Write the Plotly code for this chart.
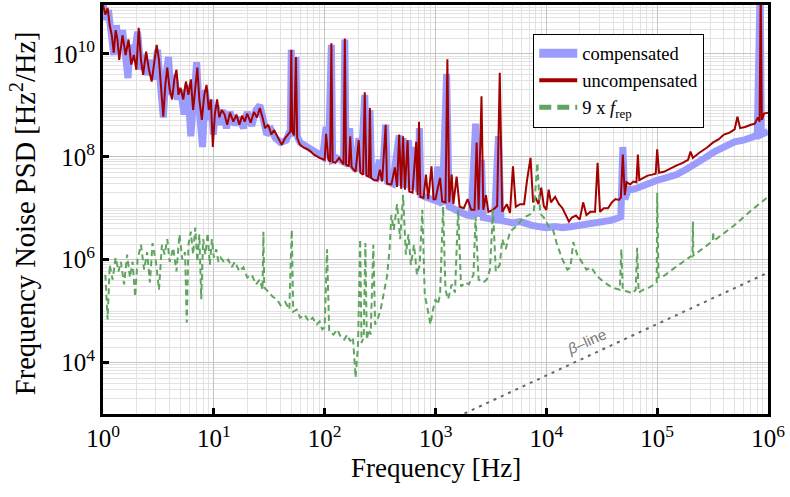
import plotly.graph_objects as go

# ---------------- data ----------------
unc_freq = [1.0, 1.05, 1.1, 1.15, 1.2, 1.25, 1.3, 1.35, 1.4, 1.45, 1.5, 1.6, 1.7, 1.8, 1.9, 2.0, 2.1, 2.2, 2.3, 2.45,
            2.6, 2.75, 2.9, 3.05, 3.2, 3.4, 3.5, 3.65, 3.8, 4.0, 4.2, 4.4, 4.6, 4.8, 5.0, 5.3, 5.6, 5.9, 6.2, 6.5,
            6.8, 7.1, 7.4, 7.8, 8.2, 8.6, 9.0, 9.4, 9.8, 10.2, 10.7, 11.2, 11.8, 12.5, 13.2, 14, 15, 16, 17, 18,
            19, 20, 21.5, 23, 24.5, 26, 27.5, 29, 31, 33, 35, 38, 41, 44, 47, 49, 50, 51, 53, 55,
            56.5, 60, 65, 70, 75, 80, 90, 100, 103, 108, 112, 115, 118, 125, 135, 148, 152, 156, 165, 170,
            175, 190, 203, 210, 222, 230, 238, 250, 256, 262, 280, 300, 315, 330, 355, 365, 400, 430, 450, 470,
            490, 510, 530, 560, 580, 620, 670, 690, 710, 730, 780, 820, 860, 920, 960, 1000, 1050, 1100, 1150, 1230,
            1280, 1330, 1400, 1450, 1550, 1650, 1800, 1950, 2100, 2250, 2350, 2450, 2600, 2700, 2850, 3000, 3300, 3600, 3800, 4000,
            4400, 4700, 5000, 5300, 5800, 6300, 6700, 7200, 7600, 8000, 8500, 9000, 9500, 10000, 10500, 11000, 12000, 13000, 14000, 15000,
            16000, 17000, 18500, 20000, 21500, 23000, 25000, 27500, 29000, 30500, 33000, 36000, 39000, 42000, 45000, 47000, 49000, 51000, 53000, 57000,
            61000, 65000, 67000, 69000, 75000, 82000, 90000, 97000, 100000, 104000, 115000, 130000, 150000, 170000, 190000, 200000, 210000, 240000, 280000, 320000,
            360000, 400000, 450000, 500000, 530000, 560000, 620000, 700000, 760000, 810000, 840000, 860000, 880000, 920000, 1000000]
unc_psd = [8.9e10, 5.8e10, 7.8e10, 3.6e10, 2.3e10, 1.05e10, 2.9e10, 1.9e10, 7.6e9, 1.5e10, 2.3e10, 9.5e9, 1.9e10, 6.2e9, 9.5e9, 4.9e9, 3.2e10, 7.6e9, 3.9e9, 1.1e10,
           4.9e9, 2.9e9, 6.2e9, 1.5e10, 7.6e9, 1.6e9, 6.0e8, 2.5e9, 5.4e9, 2.0e9, 1.3e9, 3.2e9, 4.9e9, 1.6e9, 2.2e9, 1.3e9, 2.9e9, 1.6e9, 3.2e9, 8.1e8,
           2.0e9, 5.4e9, 1.3e9, 5.2e8, 1.6e9, 2.5e9, 8.1e8, 1.3e9, 1.55e8, 6.6e8, 1.3e9, 5.8e8, 8.1e8, 6.6e8, 4.2e8, 7.2e8, 4.8e8, 6.6e8, 4.2e8, 6.3e8,
           4.8e8, 6.9e8, 4.6e8, 7.4e8, 5.8e8, 8.9e8, 5.8e8, 3.6e8, 4.2e8, 2.7e8, 3.3e8, 2.3e8, 1.7e8, 2.3e8, 2.7e8, 3.1e8, 1.2e10, 3.1e8, 2.6e8, 8.7e9,
           2.3e8, 1.7e8, 1.5e8, 1.4e8, 1.26e8, 1.1e8, 9.5e7, 8.7e7, 2.8e8, 8.7e7, 8.0e7, 1.6e10, 8.0e7, 7.6e7, 9.5e7, 7.1e7, 2.0e10, 7.1e7, 6.5e7, 2.5e8,
           6.3e7, 5.1e7, 2.1e8, 4.9e7, 4.5e7, 1.8e9, 4.3e7, 4.1e7, 8.9e8, 3.9e7, 3.5e7, 3.5e7, 5.6e7, 3.3e7, 4.2e8, 3.0e7, 2.9e7, 6.2e7, 2.6e7, 2.7e8,
           2.4e7, 2.5e8, 2.3e7, 2.1e8, 2.1e7, 2.0e7, 1.95e8, 1.8e7, 4.8e8, 1.66e7, 1.6e7, 4.5e7, 1.5e7, 6.5e7, 1.5e7, 1.5e7, 2.5e7, 3.9e7, 1.35e7, 1.3e7,
           7.9e9, 1.3e7, 4.5e7, 1.2e7, 4.1e7, 1.07e7, 1.0e7, 1.5e7, 9.3e6, 9.3e6, 1.9e8, 9.3e6, 1.5e9, 9.3e6, 1.8e7, 8.5e6, 9.3e6, 1.1e7, 4.3e9, 8.5e6,
           1.2e7, 8.1e6, 6.5e7, 1.07e7, 1.2e7, 1.2e7, 3.5e7, 9.5e7, 1.3e7, 1.6e7, 1.2e7, 2.5e7, 1.1e7, 9.3e6, 2.3e7, 1.3e7, 1.66e7, 1.2e7, 1.0e7, 7.4e6,
           5.5e6, 6.6e6, 7.2e6, 6.0e6, 1.3e7, 7.4e6, 8.5e6, 8.5e6, 7.6e7, 8.5e6, 1.0e7, 1.0e7, 1.3e7, 1.5e7, 1.45e7, 1.6e7, 1.1e8, 1.8e7, 3.2e7, 2.9e7,
           3.3e7, 3.2e7, 1.1e8, 3.5e7, 3.9e7, 4.3e7, 4.5e7, 4.7e7, 1.4e8, 4.9e7, 5.1e7, 5.9e7, 6.8e7, 7.6e7, 8.7e7, 1.26e8, 9.5e7, 1.2e8, 1.5e8, 1.9e8,
           2.2e8, 2.7e8, 2.95e8, 3.4e8, 6.0e8, 3.6e8, 3.8e8, 4.2e8, 4.4e8, 5.8e8, 4.8e8, 2.0e11, 5.2e8, 6.9e8, 7.2e8]

comp_freq = [1.0, 1.06, 1.12, 1.18, 1.25, 1.32, 1.4, 1.5, 1.6, 1.68, 1.76, 1.9, 2.05, 2.2, 2.35, 2.5, 2.7, 2.9, 3.1, 3.3,
             3.5, 3.7, 3.9, 4.1, 4.4, 4.7, 5.0, 5.4, 5.8, 6.2, 6.6, 7.0, 7.4, 7.9, 8.4, 8.9, 9.4, 9.9, 10.5, 11.2,
             12, 13, 14, 15.5, 17, 18.5, 20, 22, 24, 26, 28, 30, 33, 36, 40, 45, 49, 50, 51, 53,
             55, 56.5, 60, 66, 72, 80, 90, 96, 103, 108, 115, 118, 128, 148, 152, 156, 168, 175, 190, 203,
             212, 230, 240, 256, 265, 290, 312, 330, 355, 370, 410, 470, 490, 510, 540, 570, 600, 660, 700, 715,
             740, 800, 900, 1000, 1050, 1100, 1150, 1260, 1330, 1500, 1700, 1900, 2100, 2300, 2400, 2600, 2700, 3000, 3400, 3700,
             3900, 4400, 5000, 5800, 6500, 7500, 8500, 10000, 12000, 14000, 17000, 20000, 24000, 28000, 33000, 38000, 43000, 47000, 49000, 51000,
             55000, 60000, 67000, 75000, 85000, 100000, 120000, 150000, 180000, 220000, 270000, 330000, 400000, 500000, 600000, 700000, 800000, 850000, 870000, 1000000]
comp_psd = [9.8e10, 4.6e10, 7.1e10, 1.9e10, 9.5e9, 3.6e10, 1.2e10, 2.9e10, 7.6e9, 3.4e9, 1.5e10, 7.6e9, 2.7e10, 4.9e9, 9.5e9, 3.9e9, 7.6e9, 3.2e9, 1.2e10, 2.5e9,
            5.8e8, 3.9e9, 8.7e9, 1.6e9, 3.9e9, 1.3e9, 2.0e9, 6.6e8, 2.5e9, 2.5e8, 1.6e9, 6.9e9, 8.1e8, 1.55e8, 2.0e9, 5.2e8, 1.3e9, 2.7e8, 1.0e9, 4.2e8,
            8.1e8, 3.6e8, 7.4e8, 4.2e8, 5.8e8, 3.6e8, 7.4e8, 4.0e8, 8.1e8, 1.0e9, 5.2e8, 2.7e8, 3.3e8, 2.3e8, 1.9e8, 2.1e8, 3.3e8, 1.2e10, 2.9e8, 2.7e8,
            8.7e9, 2.5e8, 1.9e8, 1.7e8, 1.5e8, 1.26e8, 1.1e8, 1.0e8, 3.8e8, 9.5e7, 1.5e10, 8.7e7, 9.5e7, 8.0e7, 1.9e10, 7.6e7, 3.6e8, 7.1e7, 5.6e7, 2.3e8,
            5.1e7, 1.6e9, 4.5e7, 8.1e8, 4.3e7, 3.9e7, 8.7e7, 3.5e7, 4.2e8, 3.3e7, 3.0e7, 2.6e8, 2.75e7, 2.3e8, 2.5e7, 2.1e8, 2.3e7, 1.55e8, 2.1e7, 3.6e8,
            1.8e7, 1.66e7, 1.5e7, 1.4e7, 6.5e7, 1.3e7, 1.2e7, 4.1e9, 1.07e7, 9.3e6, 8.1e6, 7.4e6, 7.1e6, 4.4e8, 6.8e6, 8.7e7, 6.6e6, 6.3e6, 6.0e6, 2.5e8,
            5.8e6, 5.5e6, 5.2e6, 5.5e6, 5.0e6, 4.6e6, 4.4e6, 4.2e6, 4.4e6, 4.2e6, 4.4e6, 4.6e6, 4.8e6, 5.0e6, 5.5e6, 5.8e6, 6.3e6, 6.8e6, 1.55e8, 1.5e7,
            2.3e7, 2.3e7, 2.5e7, 2.75e7, 3.2e7, 3.5e7, 3.9e7, 4.5e7, 5.6e7, 7.1e7, 9.5e7, 1.26e8, 1.55e8, 1.95e8, 2.1e8, 2.3e8, 2.6e8, 2.0e11, 2.7e8, 3.1e8]

frep_freq = [1.05, 1.1, 1.15, 1.22, 1.3, 1.38, 1.45, 1.55, 1.65, 1.75, 1.85, 1.95, 2.05, 2.2, 2.35, 2.5, 2.65, 2.8, 3.0, 3.2,
             3.4, 3.6, 3.8, 4.0, 4.3, 4.6, 4.9, 5.2, 5.5, 5.7, 5.9, 6.2, 6.5, 6.8, 7.1, 7.4, 7.7, 8.0, 8.4, 8.8,
             9.2, 9.6, 10, 10.5, 11, 11.5, 12.5, 13.5, 14.5, 15.5, 17, 18.5, 20, 22, 24, 26, 27.5, 28, 28.5, 31,
             34, 37, 40, 44, 48, 50.5, 52, 56, 60, 66, 72, 78, 85, 90, 95, 100, 105, 110, 120, 130,
             140, 150, 160, 170, 180, 190, 200, 209, 215, 225, 233, 240, 250, 260, 275, 285, 300, 320, 340, 365,
             385, 400, 420, 450, 480, 510, 540, 570, 600, 640, 680, 720, 760, 800, 850, 900, 950, 1000, 1050, 1100,
             1170, 1230, 1300, 1400, 1500, 1600, 1700, 1850, 2000, 2200, 2300, 2450, 2700, 2900, 3100, 3300, 3500, 3800, 4000, 4300,
             4700, 5200, 5800, 6300, 7000, 7700, 8300, 8800, 9500, 10500, 11500, 12500, 14000, 15500, 16500, 17500, 19000, 21000, 23000, 25500,
             28000, 31000, 34000, 38000, 42000, 46000, 47500, 49000, 54000, 60000, 64000, 66000, 68000, 75000, 85000, 95000, 99000, 100000, 103000, 110000,
             150000, 200000, 208000, 210000, 212000, 300000, 318000, 320000, 323000, 500000, 700000, 1000000]
frep_psd = [5.1e5, 6.9e4, 7.9e5, 4.1e5, 1.1e6, 5.9e5, 9.1e5, 3.3e5, 1.26e6, 4.5e5, 9.1e5, 1.9e5, 1.0e6, 1.95e6, 6.4e5, 1.4e6, 3.6e5, 2.1e6, 9.1e5, 2.6e5,
            1.95e6, 1.26e6, 2.5e6, 9.1e5, 1.7e6, 5.9e5, 3.1e6, 1.0e6, 1.4e6, 6.0e4, 1.95e6, 3.5e6, 1.26e6, 4.2e6, 9.1e5, 3.1e6, 1.7e5, 2.5e6, 1.26e6, 3.3e6,
            7.9e5, 2.5e6, 1.1e6, 1.6e6, 9.1e5, 1.1e6, 8.7e5, 1.0e6, 7.1e5, 9.1e5, 5.9e5, 7.1e5, 4.5e5, 5.1e5, 3.3e5, 4.1e5, 2.6e5, 3.5e6, 2.9e5, 2.4e5,
            1.9e5, 1.7e5, 1.3e5, 1.5e5, 1.07e5, 3.8e6, 9.8e4, 1.07e5, 7.4e4, 8.5e4, 6.3e4, 7.4e4, 5.5e4, 6.3e4, 4.4e4, 4.8e4, 1.6e6, 4.0e4, 3.5e4, 4.4e4,
            3.1e4, 2.8e4, 3.5e4, 2.6e4, 3.1e4, 5.1e3, 2.2e4, 2.5e6, 2.4e4, 3.1e4, 2.1e6, 2.8e4, 4.4e4, 3.5e4, 1.95e6, 5.5e4, 6.9e4, 1.07e5, 2.1e5, 4.7e5,
            1.6e6, 7.4e6, 3.8e6, 1.2e7, 2.5e6, 1.8e7, 1.26e6, 3.1e6, 7.9e5, 1.95e6, 5.1e5, 7.9e5, 9.3e6, 2.1e5, 1.07e5, 5.5e4, 1.07e5, 1.7e5, 1.35e5, 2.1e5,
            1.07e7, 2.6e5, 1.7e5, 3.3e5, 2.3e5, 9.3e6, 3.0e5, 3.6e5, 3.3e5, 5.1e5, 6.8e6, 4.1e5, 3.6e5, 4.1e5, 6.4e5, 9.3e6, 5.9e5, 7.9e5, 2.5e6, 1.6e6,
            3.5e6, 4.2e6, 5.5e6, 6.6e6, 7.4e6, 8.5e6, 7.6e7, 7.8e6, 6.6e6, 4.4e6, 3.8e6, 1.95e6, 1.0e6, 6.4e5, 7.1e5, 2.2e6, 1.26e6, 9.1e5, 6.4e5, 7.1e5,
            5.1e5, 4.1e5, 3.6e5, 3.0e5, 2.75e5, 2.6e5, 1.6e6, 2.5e5, 2.4e5, 2.2e5, 2.6e5, 1.7e6, 2.3e5, 2.6e5, 2.9e5, 3.3e5, 3.6e5, 2.0e7, 4.5e5, 4.5e5,
            7.4e5, 1.15e6, 1.15e6, 5.5e6, 1.2e6, 2.1e6, 2.3e6, 3.5e6, 2.3e6, 4.7e6, 8.9e6, 1.66e7]

beta_freq = [1.0e3, 1.0e6]
beta_psd = [5.6e2, 5.6e5]

x_tick_vals = [1e0, 1e1, 1e2, 1e3, 1e4, 1e5, 1e6]
x_tick_text = ["10<sup>0</sup>", "10<sup>1</sup>", "10<sup>2</sup>", "10<sup>3</sup>",
               "10<sup>4</sup>", "10<sup>5</sup>", "10<sup>6</sup>"]
y_tick_vals = [1e4, 1e6, 1e8, 1e10]
y_tick_text = ["10<sup>4</sup>", "10<sup>6</sup>", "10<sup>8</sup>", "10<sup>10</sup>"]

# minor grid positions (2..9 x each decade, plus odd decades on y)
x_minor = [m * 10 ** k for k in range(0, 6) for m in range(2, 10)]
y_minor = [m * 10 ** k for k in range(3, 11) for m in range(1, 10) if not (m == 1 and k % 2 == 0)]

BLUE = "#9c9cfc"
RED = "#a30000"
GREEN = "#5fa55f"
SERIF = "Liberation Serif"

fig = go.Figure()
fig.add_trace(go.Scatter(x=comp_freq, y=comp_psd, mode="lines", showlegend=False,
                         line=dict(color=BLUE, width=7)))
fig.add_trace(go.Scatter(x=unc_freq, y=unc_psd, mode="lines", showlegend=False,
                         line=dict(color=RED, width=2)))
fig.add_trace(go.Scatter(x=frep_freq, y=frep_psd, mode="lines", showlegend=False,
                         line=dict(color=GREEN, width=2, dash="6px,4px")))
fig.add_trace(go.Scatter(x=beta_freq, y=beta_psd, mode="lines", showlegend=False,
                         line=dict(color="#666666", width=2, dash="3px,5px")))

# legend entries
fig.add_trace(go.Scatter(x=[None], y=[None], mode="lines", name="compensated",
                         line=dict(color=BLUE, width=9)))
fig.add_trace(go.Scatter(x=[None], y=[None], mode="lines", name="uncompensated",
                         line=dict(color=RED, width=4)))
fig.add_trace(go.Scatter(x=[None], y=[None], mode="lines", name="9 x <i>f</i><sub>rep</sub>",
                         line=dict(color=GREEN, width=5, dash="12px,6px")))

fig.add_annotation(x=4.36, y=4.40, xref="x", yref="y", text="<i>β</i>–line",
                   showarrow=False, textangle=-24,
                   font=dict(family="Liberation Sans", size=15, color="#777777"))

# axis titles as annotations (exact placement)
fig.add_annotation(x=0.5, y=-0.132, xref="paper", yref="paper", text="Frequency [Hz]",
                   showarrow=False, xanchor="center", yanchor="middle",
                   font=dict(family=SERIF, size=27, color="black"))
fig.add_annotation(x=-0.1203, y=0.491, xref="paper", yref="paper",
                   text="Frequency Noise PSD [Hz<sup>2</sup>/Hz]", textangle=-90,
                   showarrow=False, xanchor="center", yanchor="middle",
                   font=dict(family=SERIF, size=28.5, color="black"))

fig.update_layout(
    width=790, height=497,
    margin=dict(l=103, r=22, t=5, b=83, autoexpand=False),
    paper_bgcolor="white", plot_bgcolor="white",
    font=dict(family=SERIF, color="black"),
    showlegend=True,
    legend=dict(x=0.647, y=0.93, xanchor="left", yanchor="top",
                bgcolor="white", bordercolor="black", borderwidth=1,
                font=dict(family=SERIF, size=18.5), tracegroupgap=0, itemwidth=38),
)

fig.update_xaxes(
    type="log", range=[0, 6], showline=True, linecolor="black", linewidth=3, mirror=True,
    tickmode="array", tickvals=x_tick_vals, ticktext=x_tick_text,
    ticks="inside", ticklen=6, tickwidth=3, tickcolor="black",
    tickfont=dict(family=SERIF, size=25),
    showgrid=True, gridcolor="#c4c4c4", gridwidth=1,
    minor=dict(tickmode="array", tickvals=x_minor, showgrid=True, gridcolor="#e2e2e2", ticks=""),
    automargin=False, zeroline=False,
)
fig.update_yaxes(
    type="log", range=[3, 10.95], showline=True, linecolor="black", linewidth=3, mirror=True,
    tickmode="array", tickvals=y_tick_vals, ticktext=y_tick_text,
    ticks="inside", ticklen=6, tickwidth=3, tickcolor="black",
    tickfont=dict(family=SERIF, size=25),
    showgrid=True, gridcolor="#c4c4c4", gridwidth=1,
    minor=dict(tickmode="array", tickvals=y_minor, showgrid=True, gridcolor="#e2e2e2", ticks=""),
    automargin=False, zeroline=False,
)

fig.write_html("out.html", config={"displayModeBar": False},
               post_script="document.body.style.margin='0px';")
